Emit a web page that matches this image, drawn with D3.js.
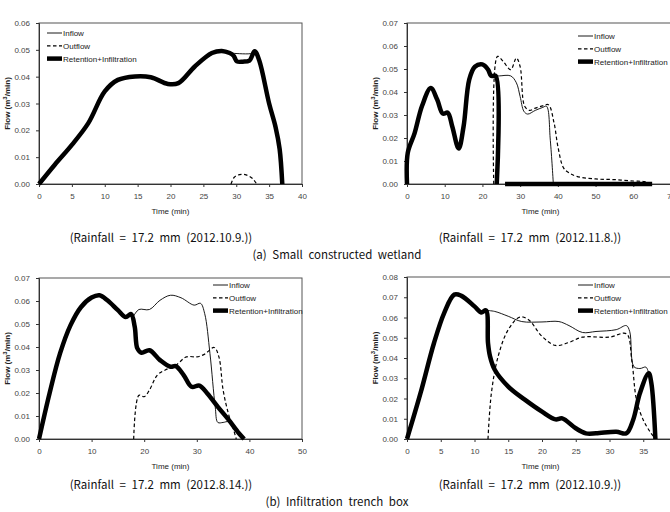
<!DOCTYPE html>
<html lang="en">
<head>
    <meta charset="UTF-8">
    <title>Flow</title>
    <script src="https://d3js.org/d3.v7.min.js"></script>
    <style>
        body { margin: 0; background: #fff; }
        svg { display: block; }
        .tick text { font-family: "Liberation Sans Narrow", "Arial Narrow", "Liberation Sans", sans-serif; font-size: 8px; fill: #444; }
        .lg { font-family: "Liberation Sans Narrow", "Arial Narrow", "Liberation Sans", sans-serif; font-size: 8px; fill: #222; }
        .cap { font-family: "Noto Sans CJK KR", "Noto Sans", sans-serif; font-size: 11.5px; fill: #111; word-spacing: 3px; }
    </style>
</head>
<body>
<svg id="chart" width="670" height="512"></svg>
<script>

    // ---- data: [time (min), flow (m3/min)] ----
    const wetland1Inflow = [[0,0],[2.4,0.0072],[5,0.0146],[7.5,0.0227],[10,0.0345],[12,0.0388],[14.6,0.0401],[17,0.0398],[19.6,0.0373],[21.2,0.0376],[23.7,0.0438],[26.3,0.0488],[27.8,0.0496],[29,0.0488],[29.5,0.0487],[32.4,0.0487],[32.8,0.0495],[33.5,0.046],[35,0.030],[36,0.021],[36.6,0.013],[37,0]];
    const wetland1Outflow = [[29.2,0],[29.7,0.0025],[30.5,0.0035],[31.5,0.0034],[32.5,0.002],[33.1,0]];
    const wetland1Retention = [[0,0],[2.4,0.0072],[5,0.0146],[7.5,0.0227],[10,0.0345],[12,0.0388],[14.6,0.0401],[17,0.0398],[19.6,0.0373],[21.2,0.0376],[23.7,0.0438],[26.3,0.0488],[27.8,0.0496],[29,0.0488],[29.6,0.0478],[30.1,0.0457],[31,0.0456],[32,0.046],[32.8,0.0495],[33.5,0.046],[35,0.030],[36,0.021],[36.6,0.013],[37,0]];

    const wetland2Inflow = [[23.5,0.047],[24.5,0.047],[27.5,0.047],[29,0.044],[30,0.038],[31,0.0316],[32,0.0304],[34,0.032],[36,0.0333],[37,0.0338],[38,0.019],[38.8,0]];
    const wetland2Outflow = [[23,0],[24,0.0555],[25.5,0.0533],[27.5,0.0497],[29,0.0548],[30,0.051],[31.2,0.0338],[32.5,0.032],[34,0.033],[36,0.034],[37.5,0.0345],[39,0.0265],[40,0.0164],[41.5,0.007],[43,0.0048],[45,0.0033],[50,0.0022],[55,0.0019],[60,0.0013],[63,0.001],[65,0]];
    const wetland2Retention = [[0,0],[0.2,0.0135],[2,0.022],[4,0.034],[6.3,0.0417],[8,0.0367],[9.5,0.0306],[10.8,0.031],[12,0.025],[13.7,0.0154],[15,0.025],[16.5,0.0454],[18,0.051],[20,0.052],[21.5,0.0497],[22.3,0.047],[23.5,0.047],[23.8,0],[24.5,null],[26,0],[65,0]];

    const trench1Inflow = [[18,0.0535],[19,0.0563],[21,0.0563],[23,0.0603],[25,0.0625],[27,0.0614],[29.5,0.0582],[30.7,0.059],[31.5,0.0545],[32.5,0.0372],[33.5,0.014],[34,0.0072],[35,0.0072],[36,0.0075],[37,0.0046],[38,0.0025],[38.5,0]];
    const trench1Outflow = [[18,0],[19,0.019],[20,0.0184],[21,0.0213],[22.5,0.0278],[24,0.03],[26,0.032],[28,0.0357],[30,0.0357],[31.5,0.0369],[33.3,0.0398],[34.2,0.0357],[35,0.0213],[36,0.0111],[37,0.004],[37.5,0]];
    const trench1Retention = [[0,0],[2,0.0198],[4,0.0372],[6,0.0495],[8,0.0574],[10,0.0615],[11.5,0.0625],[13,0.0603],[15,0.056],[16.5,0.053],[17.5,0.0543],[18.2,0.0488],[18.7,0.0394],[19.5,0.0375],[21,0.0386],[23,0.0343],[25,0.0314],[26,0.0317],[27.5,0.0278],[29,0.0227],[30.5,0.0232],[32,0.0198],[34,0.014],[36,0.0085],[38,0.0025],[39,0]];

    const trench2Inflow = [[11.7,0.0635],[13,0.063],[15,0.0606],[17,0.058],[20,0.0578],[22.5,0.058],[24,0.056],[26,0.0526],[28,0.0531],[31,0.054],[32.5,0.056],[33,0.053],[33.6,0.0358],[34.5,0.0348],[35.4,0.0355],[35.8,0.0325]];
    const trench2Outflow = [[12,0],[12.5,0.0226],[13.5,0.0408],[15,0.054],[16.7,0.0602],[18,0.0589],[20,0.0507],[22,0.0462],[24,0.0477],[26,0.0503],[30,0.0503],[32.5,0.052],[33.3,0.039],[34,0.0193],[35,0.0094],[36,0.0036],[36.8,0]];
    const trench2Retention = [[0,0],[2,0.0226],[4,0.0474],[5.5,0.0622],[7,0.0713],[8,0.0708],[10,0.0655],[11,0.0625],[11.7,0.0635],[12,0.0474],[12.3,0.0408],[13,0.0342],[15,0.0259],[17.5,0.0193],[20,0.0135],[22,0.0097],[23,0.0102],[25,0.0053],[26.5,0.0028],[28,0.0028],[31,0.0036],[32.5,0.0028],[33.5,0.0094],[34.5,0.0226],[35.8,0.0325],[36.2,0.0276],[36.8,0]];

    const legendNames = ["Inflow", "Outflow", "Retention+Infiltration"];
    const rainCaptions = ["(Rainfall = 17.2 mm (2012.10.9.))", "(Rainfall = 17.2 mm (2012.11.8.))", "(Rainfall = 17.2 mm (2012.8.14.))", "(Rainfall = 17.2 mm (2012.10.9.))"];
    const groupCaptions = ["(a) Small constructed wetland", "(b) Infiltration trench box"];

    const panels = [
        {box: [39, 302, 23, 184], xMax: 40, xStep: 5, yMax: 0.06, legend: [47, 33], capY: 242, series: [wetland1Inflow, wetland1Outflow, wetland1Retention]},
        {box: [407, 671, 23, 184], xMax: 70, xStep: 10, yMax: 0.07, legend: [578, 36], capY: 242, series: [wetland2Inflow, wetland2Outflow, wetland2Retention]},
        {box: [39, 302, 278, 439], xMax: 50, xStep: 10, yMax: 0.07, legend: [213, 285], capY: 489, series: [trench1Inflow, trench1Outflow, trench1Retention]},
        {box: [407, 677, 277, 439], xMax: 40, xStep: 5, yMax: 0.08, legend: [578, 285], capY: 489, series: [trench2Inflow, trench2Outflow, trench2Retention]}
    ];

    const styles = [
        {w: 0.9, dash: null},
        {w: 1.2, dash: "3.5,2.5"},
        {w: 4.5, dash: null}
    ];

    const svg = d3.select("#chart");

    panels.forEach((p, i) => {
        const [x0, x1, y0, y1] = p.box;
        const x = d3.scaleLinear().domain([0, p.xMax]).range([x0, x1]);
        const y = d3.scaleLinear().domain([0, p.yMax]).range([y1, y0]);
        const g = svg.append("g");

        // frame
        g.append("rect")
            .attr("x", x0).attr("y", y0)
            .attr("width", x1 - x0).attr("height", y1 - y0)
            .attr("fill", "none").attr("stroke", "#555").attr("stroke-width", 1);

        const xAxis = g.append("g")
            .attr("transform", `translate(0,${y1})`)
            .call(d3.axisBottom(x).tickValues(d3.range(0, p.xMax + 0.001, p.xStep)).tickSize(3).tickPadding(6));
        const yAxis = g.append("g")
            .attr("transform", `translate(${x0},0)`)
            .call(d3.axisLeft(y).tickValues(d3.range(0, p.yMax + 0.0001, 0.01)).tickFormat(d3.format(".2f")).tickSize(3).tickPadding(6));
        [xAxis, yAxis].forEach(a => {
            a.select(".domain").attr("stroke", "#333");
            a.selectAll(".tick line").attr("stroke", "#333");
        });

        // axis titles
        g.append("text")
            .attr("class", "lg")
            .attr("x", (x0 + Math.min(x1, 670)) / 2 + (i % 2 ? 2 : 0))
            .attr("y", y1 + 30)
            .attr("text-anchor", "middle")
            .text("Time (min)");
        g.append("text")
            .attr("class", "lg")
            .attr("transform", `translate(${x0 - 29},${(y0 + y1) / 2}) rotate(-90)`)
            .attr("text-anchor", "middle")
            .attr("font-weight", "bold")
            .attr("fill", "#333")
            .html("Flow (m<tspan dy='-3' font-size='6'>3</tspan><tspan dy='3'>/min)</tspan>");

        const line = d3.line()
            .defined(d => d[1] != null)
            .x(d => x(d[0]))
            .y(d => y(d[1]))
            .curve(d3.curveCatmullRom.alpha(0.5));

        // thick line first, thin ones on top
        [2, 0, 1].forEach(k => {
            g.append("path")
                .datum(p.series[k])
                .attr("d", line)
                .attr("fill", "none")
                .attr("stroke", "#000")
                .attr("stroke-width", styles[k].w)
                .attr("stroke-dasharray", styles[k].dash)
                .attr("stroke-linejoin", "round");
        });

        // legend
        const [lx, ly] = p.legend;
        legendNames.forEach((name, k) => {
            const yy = ly + k * 12.8;
            g.append("line")
                .attr("x1", lx).attr("x2", lx + 15)
                .attr("y1", yy).attr("y2", yy)
                .attr("stroke", "#000")
                .attr("stroke-width", styles[k].w)
                .attr("stroke-dasharray", styles[k].dash);
            g.append("text")
                .attr("class", "lg")
                .attr("x", lx + 16)
                .attr("y", yy + 3)
                .text(name);
        });

        // rainfall caption
        g.append("text")
            .attr("class", "cap")
            .attr("x", i % 2 ? 530 : 161)
            .attr("y", p.capY)
            .attr("text-anchor", "middle")
            .text(rainCaptions[i]);
    });

    groupCaptions.forEach((c, j) => {
        svg.append("text")
            .attr("class", "cap")
            .attr("x", 337)
            .attr("y", j == 0 ? 259 : 506)
            .attr("text-anchor", "middle")
            .text(c);
    });

</script>
</body>
</html>
